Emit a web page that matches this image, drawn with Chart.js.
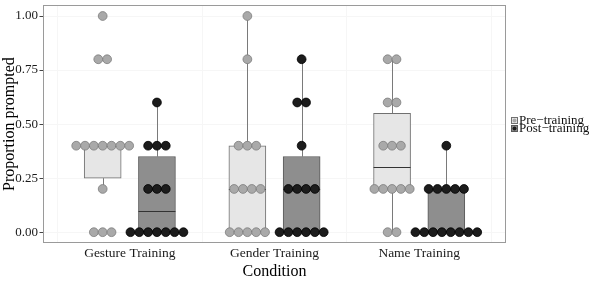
<!DOCTYPE html>
<html><head><meta charset="utf-8">
<script src="https://cdn.jsdelivr.net/npm/chart.js@4/dist/chart.umd.min.js"></script>
<style>
html,body{margin:0;padding:0;background:#fff;}
#wrap{position:relative;width:600px;height:281px;overflow:hidden;}
#legend{position:absolute;left:511px;top:116px;font-family:"Liberation Serif",serif;font-size:13px;color:#111;}
.row{display:flex;align-items:center;height:8px;line-height:8px;white-space:nowrap;}
.row svg{margin-right:1px;flex:none;}
</style></head><body>
<div id="wrap"><canvas id="c" width="600" height="281"></canvas>
<div id="legend"></div></div>
<script>
const categories = ['Gesture Training', 'Gender Training', 'Name Training'];
const seriesNames = ['Pre\u2212training', 'Post\u2212training'];
const preTraining = [
  [1.0, 0.8, 0.8, 0.4, 0.4, 0.4, 0.4, 0.4, 0.4, 0.4, 0.2, 0, 0, 0],
  [1.0, 0.8, 0.4, 0.4, 0.4, 0.2, 0.2, 0.2, 0.2, 0, 0, 0, 0, 0],
  [0.8, 0.8, 0.6, 0.6, 0.4, 0.4, 0.4, 0.2, 0.2, 0.2, 0.2, 0.2, 0, 0]
];
const postTraining = [
  [0.6, 0.4, 0.4, 0.4, 0.2, 0.2, 0.2, 0, 0, 0, 0, 0, 0, 0],
  [0.8, 0.6, 0.6, 0.4, 0.2, 0.2, 0.2, 0.2, 0, 0, 0, 0, 0, 0],
  [0.4, 0.2, 0.2, 0.2, 0.2, 0.2, 0, 0, 0, 0, 0, 0, 0, 0]
];
const yTicks = [0, 0.25, 0.5, 0.75, 1.0];

const series = [preTraining, postTraining];
const dodge = [-0.1875, 0.1875];
const dotStep = 0.061;
const boxFill = ['#e6e6e6', '#8e8e8e'];
const boxLine = ['#707070', '#5a5a5a'];
const dotFill = ['#a9a9a9', '#1c1c1c'];
const dotLine = ['#7c7c7c', '#000000'];

function quantile(s, p) {
  const h = (s.length - 1) * p, lo = Math.floor(h), hi = Math.ceil(h);
  return s[lo] + (s[hi] - s[lo]) * (h - lo);
}
function boxStats(vals) {
  const s = [...vals].sort((a, b) => a - b);
  const q1 = quantile(s, 0.25), med = quantile(s, 0.5), q3 = quantile(s, 0.75);
  const iqr = q3 - q1;
  const lo = s.find(v => v >= q1 - 1.5 * iqr - 1e-9);
  const hi = [...s].reverse().find(v => v <= q3 + 1.5 * iqr + 1e-9);
  return {q1, med, q3, lo, hi};
}
const stats = series.map(ser => ser.map(boxStats));

function dotPoints(ser, si) {
  const pts = [];
  ser.forEach((vals, ci) => {
    const counts = new Map();
    vals.forEach(v => counts.set(v, (counts.get(v) || 0) + 1));
    counts.forEach((n, v) => {
      for (let k = 0; k < n; k++) {
        pts.push({x: ci + 1 + dodge[si] + (k - (n - 1) / 2) * dotStep, y: v});
      }
    });
  });
  return pts;
}

const datasets = [];
series.forEach((ser, si) => {
  datasets.push({
    type: 'scatter', label: seriesNames[si], data: dotPoints(ser, si), order: 0,
    pointRadius: 4.4, pointHoverRadius: 4.4, pointBackgroundColor: dotFill[si],
    pointBorderColor: dotLine[si], pointBorderWidth: 0.8, showLine: false
  });
});
series.forEach((ser, si) => {
  datasets.push({
    type: 'bar', label: seriesNames[si] + ' box', series: si, order: 1,
    data: stats[si].map((st, ci) => ({x: ci + 1 + dodge[si], y: [st.q1, st.q3]})),
    backgroundColor: boxFill[si], borderColor: boxLine[si], borderWidth: 1,
    borderSkipped: false, barThickness: 37, grouped: false
  });
});

const boxPlugin = {
  id: 'boxExtras',
  beforeDatasetsDraw(chart) {
    const {ctx, chartArea: a, scales: {x, y}} = chart;
    ctx.save();
    ctx.strokeStyle = '#9a9a9a'; ctx.lineWidth = 1;
    ctx.strokeRect(Math.round(a.left) + 0.5, Math.round(a.top) + 0.5,
      Math.round(a.right - a.left) - 1, Math.round(a.bottom - a.top) - 1);
    ctx.strokeStyle = '#7a7a7a';
    stats.forEach((ser, si) => ser.forEach((st, ci) => {
      const px = Math.round(x.getPixelForValue(ci + 1 + dodge[si])) + 0.5;
      ctx.beginPath();
      ctx.moveTo(px, y.getPixelForValue(st.q3)); ctx.lineTo(px, y.getPixelForValue(st.hi));
      ctx.moveTo(px, y.getPixelForValue(st.q1)); ctx.lineTo(px, y.getPixelForValue(st.lo));
      ctx.stroke();
    }));
    ctx.restore();
  },
  afterDatasetDraw(chart, args) {
    const ds = chart.data.datasets[args.index];
    if (ds.type !== 'bar') return;
    const si = ds.series;
    const {ctx, scales: {x, y}} = chart;
    ctx.save();
    ctx.strokeStyle = '#333'; ctx.lineWidth = 1.2;
    stats[si].forEach((st, ci) => {
      const cx = x.getPixelForValue(ci + 1 + dodge[si]);
      const py = Math.round(y.getPixelForValue(st.med)) + 0.5;
      ctx.beginPath(); ctx.moveTo(cx - 18.5, py); ctx.lineTo(cx + 18.5, py); ctx.stroke();
    });
    ctx.restore();
  }
};

const serif = 'Liberation Serif';
new Chart(document.getElementById('c'), {
  type: 'bar',
  data: {datasets},
  options: {
    responsive: false, animation: false, devicePixelRatio: 1,
    layout: {padding: {left: 0, right: 94, top: 3, bottom: 0}},
    plugins: {legend: {display: false}, tooltip: {enabled: false}},
    scales: {
      x: {
        type: 'linear', min: 0.4, max: 3.6, offset: false,
        grid: {color: '#f6f6f6', drawTicks: false},
        border: {display: false},
        afterBuildTicks: s => { s.ticks = categories.map((c, i) => ({value: i + 1})); },
        ticks: {callback: v => categories[Math.round(v) - 1], autoSkip: false, maxRotation: 0,
          padding: 2, color: '#1a1a1a', font: {family: serif, size: 13.5}},
        title: {display: true, text: 'Condition', color: '#000', padding: {top: 0, bottom: 0},
          font: {family: serif, size: 16, lineHeight: 1.1}},
        afterFit: s => { s.height = 38; s.paddingLeft = 0; s.paddingRight = 0; }
      },
      y: {
        min: -0.05, max: 1.05,
        grid: {color: '#f6f6f6', tickColor: '#444', tickLength: 3.5},
        border: {display: false},
        afterBuildTicks: s => { s.ticks = yTicks.map(v => ({value: v})); },
        ticks: {callback: v => Number(v).toFixed(2), padding: 1.5, color: '#1a1a1a',
          font: {family: serif, size: 13}},
        title: {display: true, text: 'Proportion prompted', color: '#000', padding: {top: 0, bottom: 0},
          font: {family: serif, size: 16, lineHeight: 1.2}},
        afterFit: s => { s.width = 43; s.paddingTop = 0; s.paddingBottom = 0; }
      }
    }
  },
  plugins: [boxPlugin]
});

const legend = document.getElementById('legend');
seriesNames.forEach((name, si) => {
  const row = document.createElement('div');
  row.className = 'row';
  row.innerHTML = '<svg width="7" height="7" viewBox="0 0 7 7"><rect x="0.5" y="0.5" width="6" height="6" fill="' +
    boxFill[si] + '" stroke="' + boxLine[si] + '" stroke-width="1"/><circle cx="3.5" cy="3.5" r="2" fill="' +
    dotFill[si] + '"/></svg><span>' + name + '</span>';
  legend.appendChild(row);
});
</script>
</body></html>
